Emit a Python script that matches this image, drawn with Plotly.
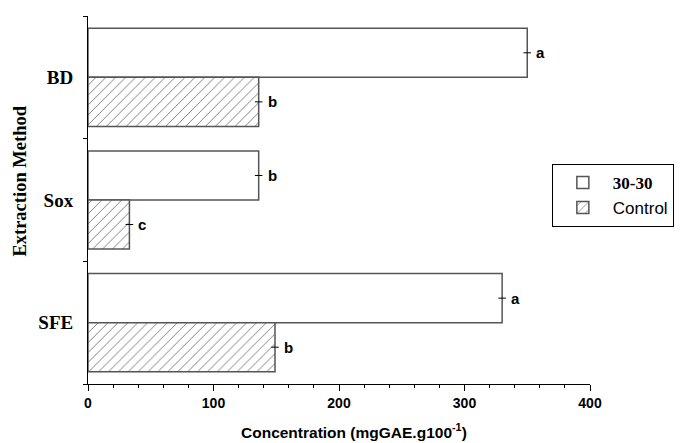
import plotly.graph_objects as go

methods = ["BD", "Sox", "SFE"]
series_names = ["30-30", "Control"]
vals_3030 = [350, 136, 330]
vals_control = [136, 33, 149]
err_3030 = [3, 3, 3]
err_control = [3, 3, 3]
letters_3030 = ["a", "b", "a"]
letters_control = ["b", "c", "b"]
x_ticks = [0, 100, 200, 300, 400]

fig = go.Figure()
fig.add_trace(go.Bar(
    y=methods, x=vals_3030, orientation="h", name="<b>30-30</b>",
    marker=dict(color="white", line=dict(color="#555555", width=1.5)),
    error_x=dict(type="data", array=err_3030, color="black", thickness=1, width=0),
))
fig.add_trace(go.Bar(
    y=methods, x=vals_control, orientation="h",
    name='<span style="font-family:Liberation Sans">Control</span>',
    marker=dict(color="white", line=dict(color="#555555", width=1.5),
                pattern=dict(shape="/", fgcolor="black", bgcolor="white", size=7, solidity=0.14)),
    error_x=dict(type="data", array=err_control, color="black", thickness=1, width=0),
))

for i, m in enumerate(methods):
    fig.add_annotation(x=vals_3030[i], y=i - 0.2, text="<b>" + letters_3030[i] + "</b>", showarrow=False,
                       xanchor="left", xshift=7, font=dict(family="Liberation Sans", size=15, color="black"))
    fig.add_annotation(x=vals_control[i], y=i + 0.2, text="<b>" + letters_control[i] + "</b>", showarrow=False,
                       xanchor="left", xshift=7, font=dict(family="Liberation Sans", size=15, color="black"))

# axis titles (placed as annotations to match their off-centre positions)
fig.add_annotation(xref="paper", yref="paper", x=-0.136, y=0.552, text="<b>Extraction Method</b>",
                   textangle=-90, showarrow=False, xanchor="center", yanchor="middle",
                   font=dict(family="Liberation Serif", size=18.5, color="black"))
fig.add_annotation(xref="paper", yref="paper", x=0.53, y=-0.129,
                   text="<b>Concentration (mgGAE.g100<sup>-1</sup>)</b>",
                   showarrow=False, xanchor="center", yanchor="middle",
                   font=dict(family="Liberation Sans", size=15.5, color="black"))

fig.update_layout(
    width=685, height=443, autosize=False,
    margin=dict(l=88, r=95, t=16, b=59, autoexpand=False),
    paper_bgcolor="white", plot_bgcolor="white",
    barmode="group", bargap=0.2, bargroupgap=0,
    showlegend=True,
    legend=dict(x=0.924, y=0.598, xanchor="left", yanchor="top",
                bordercolor="black", borderwidth=1, bgcolor="white",
                font=dict(family="Liberation Serif", size=17, color="black"),
                itemwidth=50, tracegroupgap=0),
    xaxis=dict(range=[0, 400], tickvals=x_ticks, ticktext=["<b>%d</b>" % t for t in x_ticks],
               automargin=False,
               showgrid=False, zeroline=False, showline=True, linecolor="black", linewidth=1,
               ticks="outside", ticklen=6, tickcolor="black",
               minor=dict(dtick=20, ticks="outside", ticklen=3, tickcolor="black"),
               tickfont=dict(family="Liberation Sans", size=14, color="black")),
    yaxis=dict(type="category", categoryorder="array", categoryarray=methods,
               range=[2.5, -0.5], tickson="boundaries", automargin=False,
               showgrid=False, zeroline=False, showline=True, linecolor="black", linewidth=1,
               ticks="outside", ticklen=4, tickcolor="black", ticklabelstandoff=10,
               ticktext=["<b>%s</b>" % m for m in methods], tickvals=methods,
               tickfont=dict(family="Liberation Serif", size=19, color="black")),
)

fig.write_html("out.html", config={"displayModeBar": False},
               post_script="document.body.style.margin='0';")
